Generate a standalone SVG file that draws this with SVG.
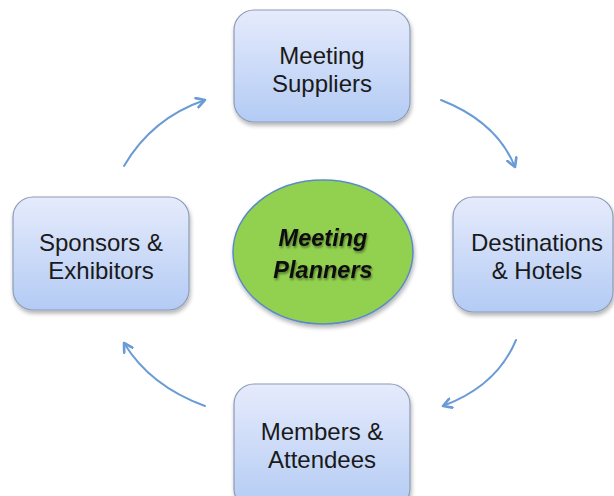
<svg xmlns="http://www.w3.org/2000/svg" width="614" height="496" viewBox="0 0 614 496">
<defs>
<linearGradient id="boxGrad" x1="0" y1="0" x2="0" y2="1">
<stop offset="0" stop-color="#e6ebfc"/>
<stop offset="1" stop-color="#b3cbf4"/>
</linearGradient>
<filter id="shadow" x="-10%" y="-10%" width="130%" height="130%">
<feGaussianBlur in="SourceAlpha" stdDeviation="2"/>
<feOffset dx="1" dy="3" result="b"/>
<feComponentTransfer><feFuncA type="linear" slope="0.3"/></feComponentTransfer>
<feMerge><feMergeNode/><feMergeNode in="SourceGraphic"/></feMerge>
</filter>
<filter id="tshadow" x="-10%" y="-10%" width="130%" height="130%">
<feGaussianBlur in="SourceAlpha" stdDeviation="0.8"/>
<feOffset dx="1" dy="1.5" result="b"/>
<feComponentTransfer><feFuncA type="linear" slope="0.4"/></feComponentTransfer>
<feMerge><feMergeNode/><feMergeNode in="SourceGraphic"/></feMerge>
</filter>
<marker id="arrow" viewBox="0 0 10 10" refX="8" refY="5" markerWidth="6" markerHeight="6" orient="auto" markerUnits="strokeWidth">
<path d="M1,1 L8,5 L1,9" fill="none" stroke="#6a9bd5" stroke-width="2.2" stroke-linecap="round" stroke-linejoin="round"/>
</marker>
</defs>
<style>
.box{fill:url(#boxGrad);stroke:#8c9cb8;stroke-width:1.2;filter:url(#shadow)}
.lbl{font-family:"Liberation Sans",Arial,sans-serif;font-size:24px;fill:#1a1a1a;text-anchor:middle}
.ctr{font-family:"Liberation Sans",Arial,sans-serif;font-size:23.5px;font-weight:bold;font-style:italic;fill:#111;text-anchor:middle;filter:url(#tshadow)}
.conn{fill:none;stroke:#6a9bd5;stroke-width:2;stroke-linecap:round;marker-end:url(#arrow)}
</style>
<rect width="614" height="496" fill="#ffffff"/>
<g id="connectors">
<path class="conn" d="M124,166 Q152,118 205,100"/>
<path class="conn" d="M441,100 Q497,122 515,167"/>
<path class="conn" d="M516,340 Q497,386 443,406"/>
<path class="conn" d="M205,406 Q150,386 124,343"/>
</g>
<g id="meeting-suppliers">
<rect class="box" x="234" y="10" width="176" height="112" rx="20"/>
<text class="lbl" x="322" y="64">Meeting</text>
<text class="lbl" x="322" y="92">Suppliers</text>
</g>
<g id="sponsors-exhibitors">
<rect class="box" x="13" y="197" width="176" height="113" rx="20"/>
<text class="lbl" x="101" y="251">Sponsors &amp;</text>
<text class="lbl" x="101" y="279">Exhibitors</text>
</g>
<g id="destinations-hotels">
<rect class="box" x="453" y="197" width="160" height="115" rx="20"/>
<text class="lbl" x="537" y="251">Destinations</text>
<text class="lbl" x="537" y="279">&amp; Hotels</text>
</g>
<g id="members-attendees">
<rect class="box" x="234" y="384" width="176" height="125" rx="20"/>
<text class="lbl" x="322" y="440">Members &amp;</text>
<text class="lbl" x="322" y="468">Attendees</text>
</g>
<g id="meeting-planners">
<ellipse cx="323" cy="252" rx="90" ry="72" fill="#92d050" stroke="#5b8ac6" stroke-width="1.5" filter="url(#shadow)"/>
<text class="ctr" x="323" y="246">Meeting</text>
<text class="ctr" x="323" y="278">Planners</text>
</g>
</svg>
